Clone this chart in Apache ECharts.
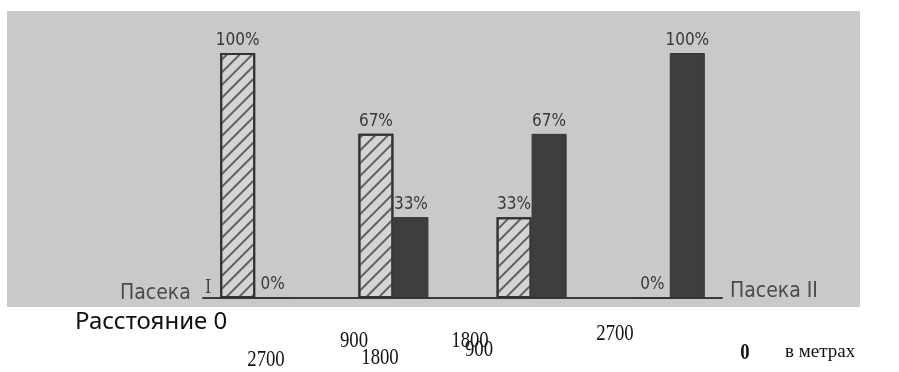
<!DOCTYPE html>
<html>
<head>
<meta charset="utf-8">
<script src="https://cdn.jsdelivr.net/npm/echarts@6/dist/echarts.min.js"></script>
<style>
html,body{margin:0;padding:0;background:#fff;}
#c{width:899px;height:372px;}
</style>
</head>
<body>
<div id="c"></div>
<script>
// Distance of each bar group from apiary I, in metres
const distances = [0, 900, 1800, 2700];
// Share of bees (hatched = marked at apiary I, dark = marked at apiary II), %
const hatchedShare = [100, 67, 33, 0];
const darkShare = [0, 33, 67, 100];
// Text labels
const apiaryLabels = ['Пасека I', 'Пасека II'];
const distanceFromI = ['0', '900', '1800', '2700'];
const distanceFromII = ['2700', '1800', '900', '0'];
const distanceTitle = 'Расстояние';
const unitLabel = 'в метрах';

const chart = echarts.init(document.getElementById('c'), null, {renderer: 'canvas'});

const labelFont = {
  show: true,
  position: 'top',
  distance: 4,
  color: '#383838',
  fontFamily: 'DejaVu Sans Condensed',
  fontSize: 17,
  formatter: p => p.value[1] + '%'
};

const serif = 'Liberation Serif';
function t(text, x, y, opts, extra) {
  return Object.assign({
    type: 'text', x: x, y: y,
    style: Object.assign({text: text, fill: '#111', font: '24px "' + serif + '"', align: 'center', verticalAlign: 'middle'}, opts || {})
  }, extra || {scaleX: 0.78});
}

chart.setOption({
  animation: false,
  backgroundColor: '#fff',
  grid: {left: 203, right: 899 - 722, top: 53, bottom: 372 - 298, containLabel: false},
  xAxis: {
    type: 'value', min: -340, max: 3040,
    axisLine: {show: true, lineStyle: {color: '#3a3a3a', width: 2}},
    axisTick: {show: false}, axisLabel: {show: false}, splitLine: {show: false}
  },
  yAxis: {type: 'value', min: 0, max: 100, show: false, splitLine: {show: false}},
  graphic: [
    {type: 'rect', z: -10, shape: {x: 7, y: 11, width: 853, height: 296}, style: {fill: '#c9c9c9'}},
    {type: 'text', left: 120, top: 283, style: {text: apiaryLabels[0].split(' ')[0], fill: '#4a4a4a', font: '21px "DejaVu Sans Condensed"'}},
    {type: 'text', left: 205, top: 279, style: {text: apiaryLabels[0].split(' ')[1], fill: '#444', font: '18px "DejaVu Serif Condensed"'}},
    {type: 'text', left: 730, top: 281, style: {text: apiaryLabels[1], fill: '#4a4a4a', font: '21px "DejaVu Sans Condensed"'}},
    t(distanceTitle + ' ' + distanceFromI[0], 75, 322, {align: 'left', font: '24px "Noto Sans"'}, {}),
    t(distanceFromI[1], 354, 341),
    t(distanceFromI[2], 470, 341),
    t(distanceFromI[3], 615, 334),
    t(distanceFromII[0], 266, 360),
    t(distanceFromII[1], 380, 358),
    t(distanceFromII[2], 479, 350),
    t(distanceFromII[3], 745, 353, {font: 'bold 24px "' + serif + '"'}),
    t(unitLabel, 785, 352, {align: 'left', font: '19px "' + serif + '"'}, {})
  ],
  series: [
    {
      type: 'bar', barWidth: 35, barGap: '0%',
      data: distances.map((d, i) => [d, hatchedShare[i]]),
      itemStyle: {
        color: '#d4d4d4', borderColor: '#333', borderWidth: 2,
        decal: {symbol: 'rect', symbolSize: 1, dashArrayX: [1, 0], dashArrayY: [1.3, 7], rotation: -Math.PI / 4, color: '#606060'}
      },
      label: labelFont
    },
    {
      type: 'bar', barWidth: 35, barGap: '0%',
      data: distances.map((d, i) => [d, darkShare[i]]),
      itemStyle: {color: '#3e3e3e', borderColor: '#333', borderWidth: 1},
      label: labelFont
    }
  ]
});
</script>
</body>
</html>
